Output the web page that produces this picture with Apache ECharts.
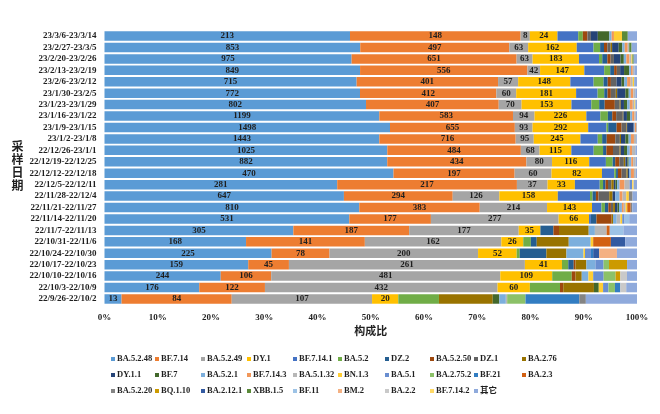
<!DOCTYPE html>
<html>
<head>
<meta charset="utf-8">
<script src="https://cdn.jsdelivr.net/npm/echarts@6/dist/echarts.min.js"></script>
<style>
html,body{margin:0;padding:0;background:#fff;}
#main{width:660px;height:414px;}
</style>
</head>
<body>
<div id="main"></div>
<script>
// Categories (top to bottom)
var categories = ["23/3/6-23/3/14","23/2/27-23/3/5","23/2/20-23/2/26","23/2/13-23/2/19","23/2/6-23/2/12","23/1/30-23/2/5","23/1/23-23/1/29","23/1/16-23/1/22","23/1/9-23/1/15","23/1/2-23/1/8","22/12/26-23/1/1","22/12/19-22/12/25","22/12/12-22/12/18","22/12/5-22/12/11","22/11/28-22/12/4","22/11/21-22/11/27","22/11/14-22/11/20","22/11/7-22/11/13","22/10/31-22/11/6","22/10/24-22/10/30","22/10/17-22/10/23","22/10/10-22/10/16","22/10/3-22/10/9","22/9/26-22/10/2"];

// Series counts (one value per category, same order)
var BA_5_2_48  = [213,853,975,849,715,772,802,1199,1498,1443,1025,882,470,281,647,810,531,305,168,225,159,244,176,13];
var BF_7_14    = [148,497,651,556,401,412,407,583,655,716,484,434,197,217,294,383,177,187,141,78,45,106,122,84];
var BA_5_2_49  = [8,63,63,42,57,60,70,94,93,95,68,80,60,37,126,214,277,177,162,200,261,481,432,107];
var DY_1       = [24,162,183,147,148,181,153,226,292,245,115,116,82,33,158,143,66,35,26,52,41,109,60,20];
var BF_7_14_1  = [18,56,79,66,66,65,61,61,96,91,81,52,20,30,87,30,4,0,0,0,0,0,0,0];
var BA_5_2     = [4,22,13,20,28,20,24,33,9,23,34,21,3,4,7,11,0,0,9,4,7,41,56,31];
var DZ_2       = [0,13,20,13,12,10,17,19,44,24,12,8,3,3,9,11,12,21,7,36,6,0,0,0];
var BA_5_2_50  = [4,11,13,9,9,10,31,17,26,45,24,13,6,3,7,8,33,9,0,0,2,8,6,0];
var DZ_1       = [3,11,13,11,16,15,15,29,26,24,24,14,8,4,29,7,0,0,0,0,0,0,0,0];
var BA_2_76    = [0,5,0,0,0,4,3,3,3,6,4,5,2,3,9,6,3,48,38,27,12,13,57,41];
var DY_1_1     = [6,22,26,13,14,25,10,15,35,23,12,6,2,2,7,8,0,0,0,0,0,0,0,0];
var BF_7       = [10,12,13,17,8,10,10,15,0,17,11,4,0,2,0,5,0,0,0,0,0,0,9,5];
var BA_5_2_1   = [2,8,10,6,8,6,8,8,5,12,10,8,3,3,12,9,8,10,26,23,10,14,0,5];
var BF_7_14_3  = [2,10,12,6,10,8,9,10,7,16,8,6,5,6,8,6,0,0,0,0,0,0,0,0];
var BA_5_1_32  = [0,5,8,5,6,6,5,6,5,12,12,8,3,6,10,6,8,19,0,0,0,0,0,1];
var BN_1_3     = [7,0,4,0,4,0,3,0,0,0,0,0,0,0,7,5,4,0,3,2,0,10,8,0];
var BA_5_1     = [0,0,0,0,0,0,0,0,0,0,0,0,0,3,0,0,5,0,0,8,9,22,10,0];
var BA_2_75_2  = [0,0,0,0,0,0,0,0,0,0,0,0,0,0,0,0,0,0,0,0,6,25,12,14];
var BF_21      = [0,0,0,0,0,0,0,0,0,0,0,0,0,0,0,0,0,0,0,3,0,0,10,41];
var BA_2_3     = [0,0,0,0,0,0,0,0,0,0,0,0,0,0,0,11,0,5,21,0,0,0,0,0];
var BA_5_2_20  = [0,0,0,0,0,0,0,0,0,0,0,0,0,0,10,5,0,0,0,0,0,0,0,5];
var BQ_1_10    = [0,0,0,0,0,0,0,0,0,0,0,0,0,0,0,0,0,0,0,0,20,10,0,0];
var BA_2_12_1  = [0,0,0,0,0,0,0,0,0,0,0,0,0,0,0,0,0,0,17,8,0,0,0,0];
var XBB_1_5    = [5,8,5,0,0,0,0,0,0,0,0,0,0,0,0,0,0,0,0,0,0,0,0,0];
var BF_11      = [0,0,0,0,0,0,0,0,0,0,0,0,0,0,0,0,10,22,0,0,0,0,0,0];
var BM_2       = [0,0,0,0,0,0,0,0,0,0,0,0,0,0,0,0,0,0,0,24,0,0,0,0];
var BA_2_2     = [0,0,0,0,0,0,0,0,0,0,0,0,0,0,0,0,0,0,0,0,0,14,11,0];
var BF_7_14_2  = [0,0,0,0,0,0,0,0,0,0,0,0,0,2,0,0,0,0,0,0,0,0,0,0];
var OTHER      = [8,18,13,9,8,5,5,5,0,4,6,4,2,4,12,15,17,22,14,27,11,21,20,39];

var seriesNames = ["BA.5.2.48","BF.7.14","BA.5.2.49","DY.1","BF.7.14.1","BA.5.2","DZ.2","BA.5.2.50","DZ.1","BA.2.76","DY.1.1","BF.7","BA.5.2.1","BF.7.14.3","BA.5.1.32","BN.1.3","BA.5.1","BA.2.75.2","BF.21","BA.2.3","BA.5.2.20","BQ.1.10","BA.2.12.1","XBB.1.5","BF.11","BM.2","BA.2.2","BF.7.14.2","其它"];
var seriesValues = [BA_5_2_48,BF_7_14,BA_5_2_49,DY_1,BF_7_14_1,BA_5_2,DZ_2,BA_5_2_50,DZ_1,BA_2_76,DY_1_1,BF_7,BA_5_2_1,BF_7_14_3,BA_5_1_32,BN_1_3,BA_5_1,BA_2_75_2,BF_21,BA_2_3,BA_5_2_20,BQ_1_10,BA_2_12_1,XBB_1_5,BF_11,BM_2,BA_2_2,BF_7_14_2,OTHER];

var xTickLabels = ["0%","10%","20%","30%","40%","50%","60%","70%","80%","90%","100%"];

// Styles
var colors = ["#5B9BD5","#ED7D31","#A5A5A5","#FFC000","#4472C4","#70AD47","#255E91","#9E480E","#636363","#997300","#264478","#43682B","#7CAFDD","#F1975A","#B7B7B7","#FFCD33","#698ED0","#8CC168","#327DC2","#D26012","#848484","#CC9A00","#335AA1","#5A8A39","#9DC3E6","#F4B183","#C9C9C9","#FFD966","#8FAADC"];
var FONT = "'Liberation Serif','Noto Sans CJK SC',serif";
var TXT = "#1f1f1f";

// totals per category
var totals = categories.map(function(_, i){
  var s = 0; seriesValues.forEach(function(arr){ s += arr[i]; }); return s;
});

var series = seriesNames.map(function(name, k){
  var counts = seriesValues[k];
  return {
    name: name,
    type: 'bar',
    stack: 'all',
    barCategoryGap: '17%',
    itemStyle: {color: colors[k]},
    data: counts.map(function(c, i){ return c / totals[i] * 100; }),
    label: {
      show: k < 4,
      position: 'inside',
      fontFamily: FONT, fontWeight: 'bold', fontSize: 9, color: TXT,
      formatter: function(p){ var c = counts[p.dataIndex]; return c > 0 ? String(c) : ''; }
    },
    emphasis: {disabled: true}
  };
});

// legend: 10 columns, 3 rows (Excel row-major order); markers drawn as rich-text squares
var colLeft = [106,150,196,242,288,333,380,425,469,517];
var rich = {t: {fontFamily: FONT, fontWeight: 'bold', fontSize: 8.5, color: TXT, lineHeight: 10, padding: [0,0,0,2]}};
colors.forEach(function(c, i){ rich['m' + i] = {width: 4, height: 4, backgroundColor: c, verticalAlign: 'middle'}; });
var legends = colLeft.map(function(x, c){
  var d = [];
  for (var r = 0; r < 3; r++) { var idx = r*10 + c; if (idx < seriesNames.length) d.push(seriesNames[idx]); }
  return {
    data: d, orient: 'vertical', left: x - 5, top: 349,
    itemWidth: 0, itemHeight: 10, itemGap: 6, icon: 'none',
    selectedMode: false,
    formatter: function(name){ var i = seriesNames.indexOf(name); return '{m' + i + '| }{t|' + name + '}'; },
    textStyle: {fontFamily: FONT, fontWeight: 'bold', fontSize: 8.5, color: TXT, lineHeight: 10, rich: rich}
  };
});

var chart = echarts.init(document.getElementById('main'), null, {renderer: 'canvas'});
chart.setOption({
  animation: false,
  backgroundColor: '#ffffff',
  grid: {left: 104.5, right: 23, top: 30.3, bottom: 109.3, containLabel: false},
  legend: legends,
  xAxis: {
    type: 'value', min: 0, max: 100, interval: 10,
    name: '构成比', nameLocation: 'middle', nameGap: 22,
    nameTextStyle: {fontFamily: FONT, fontWeight: 'bold', fontSize: 11, color: TXT},
    axisLine: {show: false}, axisTick: {show: false}, splitLine: {show: false},
    axisLabel: {margin: 8, fontFamily: FONT, fontWeight: 'bold', fontSize: 9, color: TXT,
      formatter: function(v){ return xTickLabels[Math.round(v/10)]; }}
  },
  yAxis: {
    type: 'category', data: categories, inverse: true,
    name: '采\n样\n日\n期', nameLocation: 'middle', nameGap: 79, nameRotate: 0,
    nameTextStyle: {fontFamily: FONT, fontWeight: 'bold', fontSize: 12, color: TXT, lineHeight: 13, align: 'center', verticalAlign: 'middle'},
    axisLine: {show: false}, axisTick: {show: false},
    axisLabel: {interval: 0, margin: 8, fontFamily: FONT, fontWeight: 'bold', fontSize: 9, color: TXT}
  },
  series: series
});
</script>
</body>
</html>
